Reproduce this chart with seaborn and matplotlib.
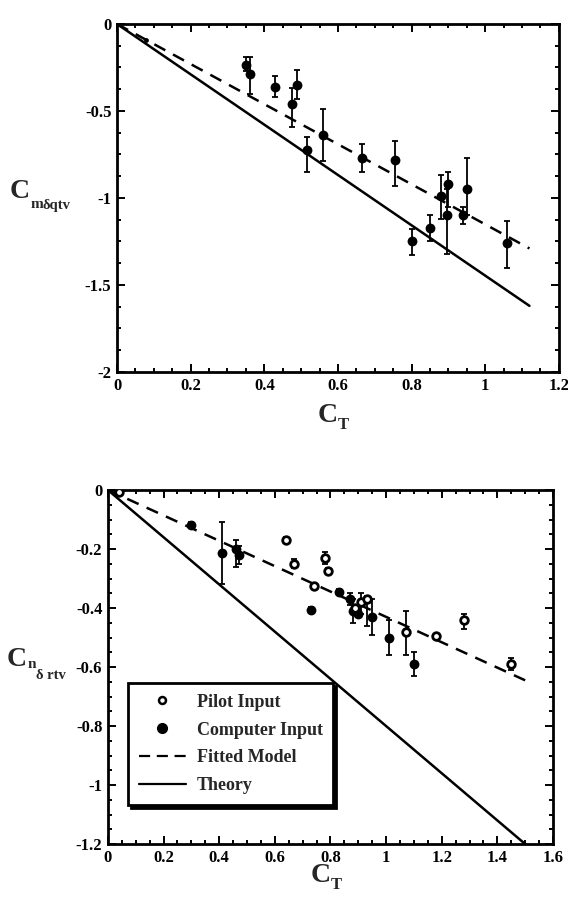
import matplotlib
matplotlib.use("Agg")
import numpy as np
import pandas as pd
import seaborn as sns
import matplotlib.pyplot as plt
from matplotlib.ticker import MultipleLocator, FuncFormatter
from matplotlib.lines import Line2D

# ---------------- data : top panel (pitch, computer input) ----------------
top_ct = [0.35, 0.36, 0.43, 0.475, 0.49, 0.515, 0.56, 0.665, 0.755,
          0.80, 0.85, 0.88, 0.895, 0.90, 0.94, 0.95, 1.06]
top_val = [-0.235, -0.29, -0.36, -0.46, -0.35, -0.725, -0.64, -0.77, -0.78,
           -1.25, -1.17, -0.99, -1.10, -0.92, -1.10, -0.95, -1.26]
top_lo = [-0.27, -0.40, -0.42, -0.59, -0.43, -0.85, -0.79, -0.85, -0.93,
          -1.33, -1.25, -1.12, -1.32, -1.05, -1.15, -1.10, -1.40]
top_hi = [-0.19, -0.19, -0.30, -0.37, -0.265, -0.65, -0.49, -0.69, -0.67,
          -1.18, -1.10, -0.87, -0.95, -0.85, -1.05, -0.77, -1.13]
top_small_ct = [0.08]
top_small_val = [-0.09]
top_fit_ct = [0.0, 1.12]
top_fit_val = [0.0, -1.29]
top_theory_ct = [0.0, 1.12]
top_theory_val = [0.0, -1.62]

# ---------------- data : bottom panel (yaw) ----------------
comp_ct = [0.30, 0.41, 0.46, 0.47, 0.73, 0.83, 0.87, 0.88, 0.90, 0.95, 1.01, 1.10]
comp_val = [-0.12, -0.215, -0.20, -0.22, -0.405, -0.345, -0.37, -0.41, -0.42, -0.43, -0.50, -0.59]
comp_lo = [-0.13, -0.32, -0.26, -0.25, -0.415, -0.355, -0.39, -0.45, -0.43, -0.49, -0.56, -0.63]
comp_hi = [-0.11, -0.11, -0.17, -0.19, -0.395, -0.335, -0.35, -0.37, -0.41, -0.37, -0.44, -0.55]

pilot_ct = [0.04, 0.64, 0.67, 0.74, 0.78, 0.79, 0.89, 0.91, 0.93, 1.07, 1.18, 1.28, 1.45]
pilot_val = [-0.005, -0.17, -0.25, -0.325, -0.23, -0.275, -0.40, -0.38, -0.37, -0.48, -0.495, -0.44, -0.59]
pilot_lo = [-0.005, -0.18, -0.265, -0.33, -0.25, -0.285, -0.41, -0.42, -0.46, -0.56, -0.50, -0.47, -0.61]
pilot_hi = [-0.005, -0.16, -0.235, -0.32, -0.21, -0.265, -0.39, -0.35, -0.36, -0.41, -0.49, -0.42, -0.57]

bot_fit_ct = [0.0, 1.50]
bot_fit_val = [0.0, -0.645]
bot_theory_ct = [0.0, 1.50]
bot_theory_val = [0.0, -1.20]

legend_labels = ["Pilot Input", "Computer Input", "Fitted Model", "Theory"]

# ---------------- style ----------------
sns.set_theme(style="ticks")
plt.rcParams["font.family"] = ["Liberation Serif", "DejaVu Serif"]
plt.rcParams["font.weight"] = "bold"

fig = plt.figure(figsize=(5.68, 9.09), dpi=100)
ax1 = fig.add_axes([0.206, 0.5908, 0.778, 0.3828])
ax2 = fig.add_axes([0.190, 0.0715, 0.7835, 0.3894])

fmt = FuncFormatter(lambda v, p: ("%g" % round(v, 3)) if abs(v) > 1e-9 else "0")


def style_axes(ax, xmax, ymin, xmaj, xmin_, ymaj, ymin_):
    ax.set_xlim(0, xmax)
    ax.set_ylim(ymin, 0)
    ax.xaxis.set_major_locator(MultipleLocator(xmaj))
    ax.xaxis.set_minor_locator(MultipleLocator(xmin_))
    ax.yaxis.set_major_locator(MultipleLocator(ymaj))
    ax.yaxis.set_minor_locator(MultipleLocator(ymin_))
    ax.xaxis.set_major_formatter(fmt)
    ax.yaxis.set_major_formatter(fmt)
    ax.tick_params(which="both", direction="in", top=True, right=True,
                   colors="black", width=1.4)
    ax.tick_params(which="major", length=6, labelsize=12, pad=4)
    ax.tick_params(which="minor", length=3)
    for lab in ax.get_xticklabels() + ax.get_yticklabels():
        lab.set_fontweight("bold")
    for s in ax.spines.values():
        s.set_linewidth(2)
        s.set_color("black")
    ax.set_facecolor("white")


def err(ax, x, y, lo, hi):
    y = np.asarray(y); lo = np.asarray(lo); hi = np.asarray(hi)
    ax.errorbar(x, y, yerr=[y - lo, hi - y], fmt="none", ecolor="black",
                elinewidth=1.3, capsize=2, capthick=1.3, zorder=2)


def xlabel(ax, ypos):
    t = ax.text(0.5, ypos, "C", transform=ax.transAxes, fontsize=20, fontweight="bold",
                ha="right", va="center")
    ax.annotate("T", xy=(1, 0.12), xycoords=t, fontsize=12, fontweight="bold",
                ha="left", va="center", annotation_clip=False)


def ylabel(ax, fx, fy, sub1, sub2, sub1_y, sub2_y):
    t = fig.text(fx, fy, "C", fontsize=20, fontweight="bold", ha="left", va="center")
    s1 = ax.annotate(sub1, xy=(1, sub1_y), xycoords=t, fontsize=11, fontweight="bold",
                     ha="left", va="center", annotation_clip=False)
    ax.annotate(sub2, xy=(1, sub2_y), xycoords=s1, fontsize=10.5, fontweight="bold",
                ha="left", va="center", annotation_clip=False)


# ---------------- top panel ----------------
sns.lineplot(x=top_theory_ct, y=top_theory_val, ax=ax1, color="black", lw=1.8, zorder=1)
sns.lineplot(x=top_fit_ct, y=top_fit_val, ax=ax1, color="black", lw=1.8, zorder=1)
ax1.lines[-1].set_dashes((5, 3.5))
err(ax1, top_ct, top_val, top_lo, top_hi)
sns.scatterplot(x=top_ct, y=top_val, ax=ax1, color="black", s=50, linewidth=0, zorder=3)
sns.scatterplot(x=top_small_ct, y=top_small_val, ax=ax1, color="black", s=12, linewidth=0, zorder=3)
style_axes(ax1, 1.2, -2, 0.2, 0.05, 0.5, 0.125)
xlabel(ax1, -0.125)

# ---------------- bottom panel ----------------
sns.lineplot(x=bot_theory_ct, y=bot_theory_val, ax=ax2, color="black", lw=1.8, zorder=1)
sns.lineplot(x=bot_fit_ct, y=bot_fit_val, ax=ax2, color="black", lw=1.8, zorder=1)
ax2.lines[-1].set_dashes((5, 3.5))
err(ax2, comp_ct, comp_val, comp_lo, comp_hi)
err(ax2, pilot_ct, pilot_val, pilot_lo, pilot_hi)
sns.scatterplot(x=comp_ct, y=comp_val, ax=ax2, color="black", s=50, linewidth=0, zorder=3)
sns.scatterplot(x=pilot_ct, y=pilot_val, ax=ax2, color="white", edgecolor="black",
                s=30, linewidth=2, zorder=4)
style_axes(ax2, 1.6, -1.2, 0.2, 0.05, 0.2, 0.05)
xlabel(ax2, -0.09)

# y labels built from pieces (C with nested subscripts)
ylabel(ax1, 10 / 568, 1 - 192 / 909, "m", "\u03b4qtv", 0.0, 0.45)
ylabel(ax2, 7 / 568, 1 - 659 / 909, "n", "\u03b4 rtv", 0.3, -0.35)

handles = [
    Line2D([], [], marker="o", ls="none", color="black", mfc="white", mec="black", ms=5, mew=1.8),
    Line2D([], [], marker="o", ls="none", color="black", ms=7),
    Line2D([], [], color="black", lw=1.6, dashes=(5, 3)),
    Line2D([], [], color="black", lw=1.6),
]
leg = ax2.legend(handles, legend_labels, loc="upper left", bbox_to_anchor=(0.045, 0.455),
                 frameon=True, fancybox=False, shadow={"color": "black", "alpha": 1},
                 prop={"family": "Liberation Serif", "weight": "bold", "size": 13},
                 labelspacing=0.6, borderpad=0.6, handlelength=2.6, handletextpad=0.6,
                 borderaxespad=0)
leg.get_frame().set_edgecolor("black")
leg.get_frame().set_linewidth(2)
leg.get_frame().set_facecolor("white")
leg.get_frame().set_alpha(1)

fig.savefig("out.png", dpi=100, facecolor="white")
